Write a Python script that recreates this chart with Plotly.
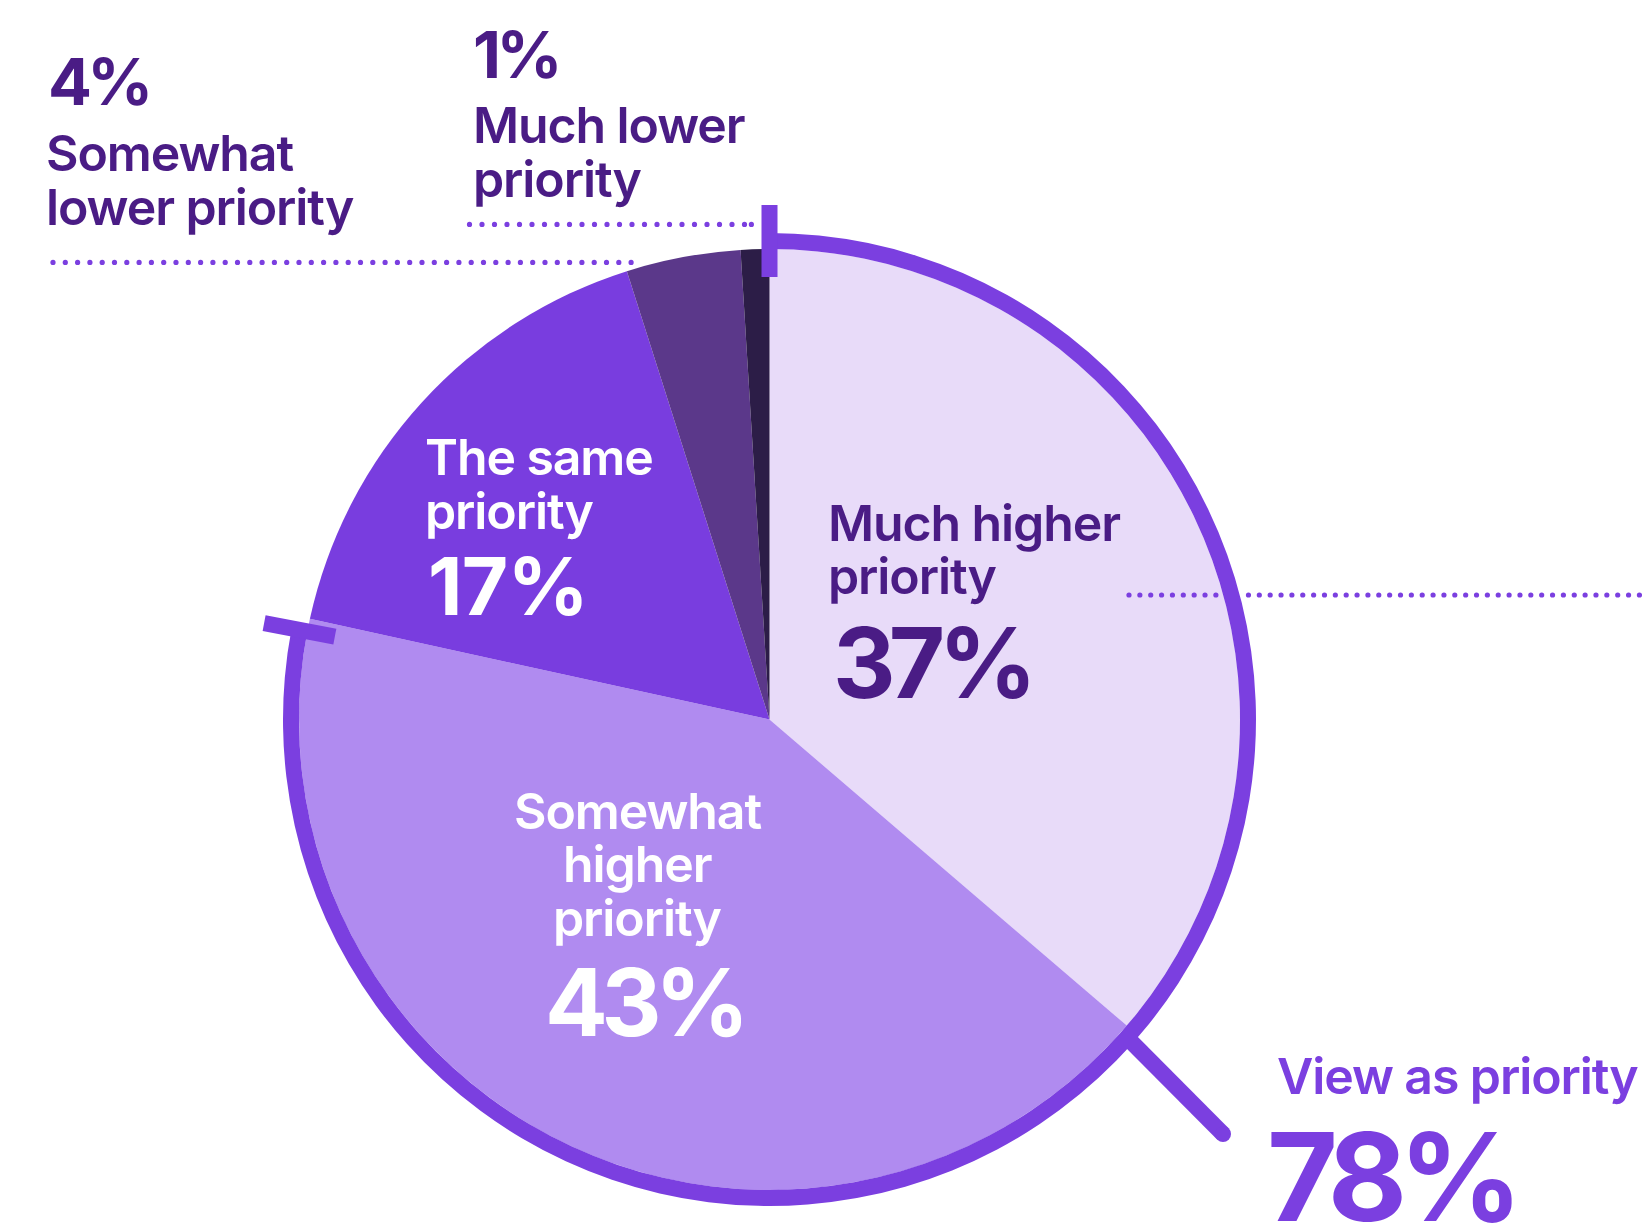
import math
import plotly.graph_objects as go

W, H = 1646, 1223

# Survey shares (percent), drawn clockwise from 12 o'clock
categories = [
    "Much higher priority",
    "Somewhat higher priority",
    "The same priority",
    "Somewhat lower priority",
    "Much lower priority",
]
shares = [37, 43, 17, 4, 1]
slice_colors = ["#E8DBF9", "#B08BF0", "#793DDF", "#5B388A", "#2C1D47"]

# Combined "higher priority" share, shown by the outer arc
view_as_priority = 78

ACCENT = "#7B3FE0"
DARK = "#4A1C85"
WHITE = "#FFFFFF"
FONT = "Inter"

# Pie geometry in pixels
CX, CY = 769.5, 719.5
R_PIE = 470.5
RING_W = 16
R_RING = R_PIE + RING_W
R_MID = R_PIE + RING_W / 2
TICK_LEN = 72


def pie_domain(r):
    return dict(
        x=[(CX - r) / W, (CX + r) / W],
        y=[1 - (CY + r) / H, 1 - (CY - r) / H],
    )


def polar_px(frac, r):
    """Point at a clockwise fraction of the circle from 12 o'clock."""
    a = math.radians(90 - 360 * frac)
    return CX + r * math.cos(a), CY - r * math.sin(a)


fig = go.Figure()

# hidden pixel-scale axes used for labels and decorations
fig.add_trace(go.Scatter(x=[0, W], y=[0, H], mode="markers",
                         marker=dict(opacity=0), hoverinfo="skip", showlegend=False))

fig.add_trace(go.Pie(
    labels=categories,
    values=shares,
    sort=False,
    direction="clockwise",
    rotation=0,
    marker=dict(colors=slice_colors, line=dict(width=0)),
    textinfo="none",
    hoverinfo="label+value",
    showlegend=False,
    domain=pie_domain(R_PIE),
))

# outer arc for the combined share
fig.add_trace(go.Pie(
    labels=["View as priority", "Other"],
    values=[view_as_priority, 100 - view_as_priority],
    sort=False,
    direction="clockwise",
    rotation=0,
    hole=R_PIE / R_RING,
    marker=dict(colors=[ACCENT, "rgba(0,0,0,0)"], line=dict(width=0)),
    textinfo="none",
    hoverinfo="skip",
    showlegend=False,
    domain=pie_domain(R_RING),
))

shapes = []

# end ticks of the arc
for frac in (0, view_as_priority / 100):
    x0, y0 = polar_px(frac, R_MID - TICK_LEN / 2)
    x1, y1 = polar_px(frac, R_MID + TICK_LEN / 2)
    shapes.append(dict(type="line", xref="x", yref="y", x0=x0, y0=y0, x1=x1, y1=y1,
                       line=dict(color=ACCENT, width=16), layer="above"))

# pointer from the arc to the combined label
px0, py0, px1, py1 = 1128.5, 1039, 1223, 1134
shapes.append(dict(type="line", xref="x", yref="y", x0=px0, y0=py0, x1=px1, y1=py1,
                   line=dict(color=ACCENT, width=16), layer="above"))
shapes.append(dict(type="circle", xref="x", yref="y", x0=px1 - 8, y0=py1 - 8,
                   x1=px1 + 8, y1=py1 + 8, fillcolor=ACCENT, line=dict(width=0),
                   layer="above"))


def dotted_leader(x_start, x_end, y, step, dot_r=2.6, extra_end=False, under_arc=False):
    n = int(round((x_end - x_start) / step))
    xs = [x_start + i * step for i in range(n + 1)]
    if extra_end:
        xs.append(xs[-1] + step * 0.55)
    for x in xs:
        if under_arc:
            d = math.hypot(x - CX, y - CY)
            if R_PIE - 2 <= d <= R_RING + 2:
                continue  # hidden under the arc
        shapes.append(dict(type="circle", xref="x", yref="y",
                           x0=x - dot_r, y0=y - dot_r, x1=x + dot_r, y1=y + dot_r,
                           fillcolor=ACCENT, line=dict(width=0), layer="above"))


dotted_leader(53, 634, 262.4, 12.3)
dotted_leader(469.5, 745, 224.4, 12.5, extra_end=True)
dotted_leader(1129, 1646, 595, 10.86, under_arc=True)


def label(text, x, y, size, color, weight=600, xanchor="left", track=None):
    if track is None:
        track = -0.022 * size
    return dict(text=f'<span style="letter-spacing:{track:.1f}px">{text}</span>',
                x=x, y=y, xref="x", yref="y", xanchor=xanchor,
                yanchor="middle", showarrow=False, borderpad=0,
                font=dict(family=FONT, size=size, color=color, weight=weight))


def number(text, x, y, size, color, xanchor="left", track=-0.07):
    return label(text, x, y, size, color, 700, xanchor, track=track * size)


LBL = 50
annotations = [
    # Somewhat lower
    number("4%", 47, 81.4, 65, DARK),
    label("Somewhat", 45, 153.2, LBL, DARK),
    label("lower priority", 45, 206.7, LBL, DARK),
    # Much lower
    number("1%", 472, 54, 65, DARK),
    label("Much lower", 472, 125.4, LBL, DARK),
    label("priority", 472, 178.9, LBL, DARK),
    # The same
    label("The same", 424, 457, LBL, WHITE),
    label("priority", 424, 510.5, LBL, WHITE),
    number("17%", 427, 585, 80, WHITE, track=-0.01),
    # Much higher
    label("Much higher", 827, 522.8, LBL, DARK),
    label("priority", 827, 576.3, LBL, DARK),
    number("37%", 832, 662.8, 97, DARK),
    # Somewhat higher
    label("Somewhat", 637, 810.8, LBL, WHITE, xanchor="center"),
    label("higher", 637, 864.3, LBL, WHITE, xanchor="center"),
    label("priority", 637, 917.8, LBL, WHITE, xanchor="center"),
    number("43%", 644, 1001.5, 93, WHITE, xanchor="center"),
    # Combined
    label("View as priority", 1276, 1075.5, LBL, ACCENT),
    number("78%", 1266, 1176, 122, ACCENT),
]

fig.update_layout(
    width=W,
    height=H,
    margin=dict(l=0, r=0, t=0, b=0),
    paper_bgcolor="white",
    plot_bgcolor="white",
    xaxis=dict(range=[0, W], visible=False, fixedrange=True),
    yaxis=dict(range=[H, 0], visible=False, fixedrange=True),
    shapes=shapes,
    annotations=annotations,
    font=dict(family=FONT),
)

fig.write_html("out.html")
